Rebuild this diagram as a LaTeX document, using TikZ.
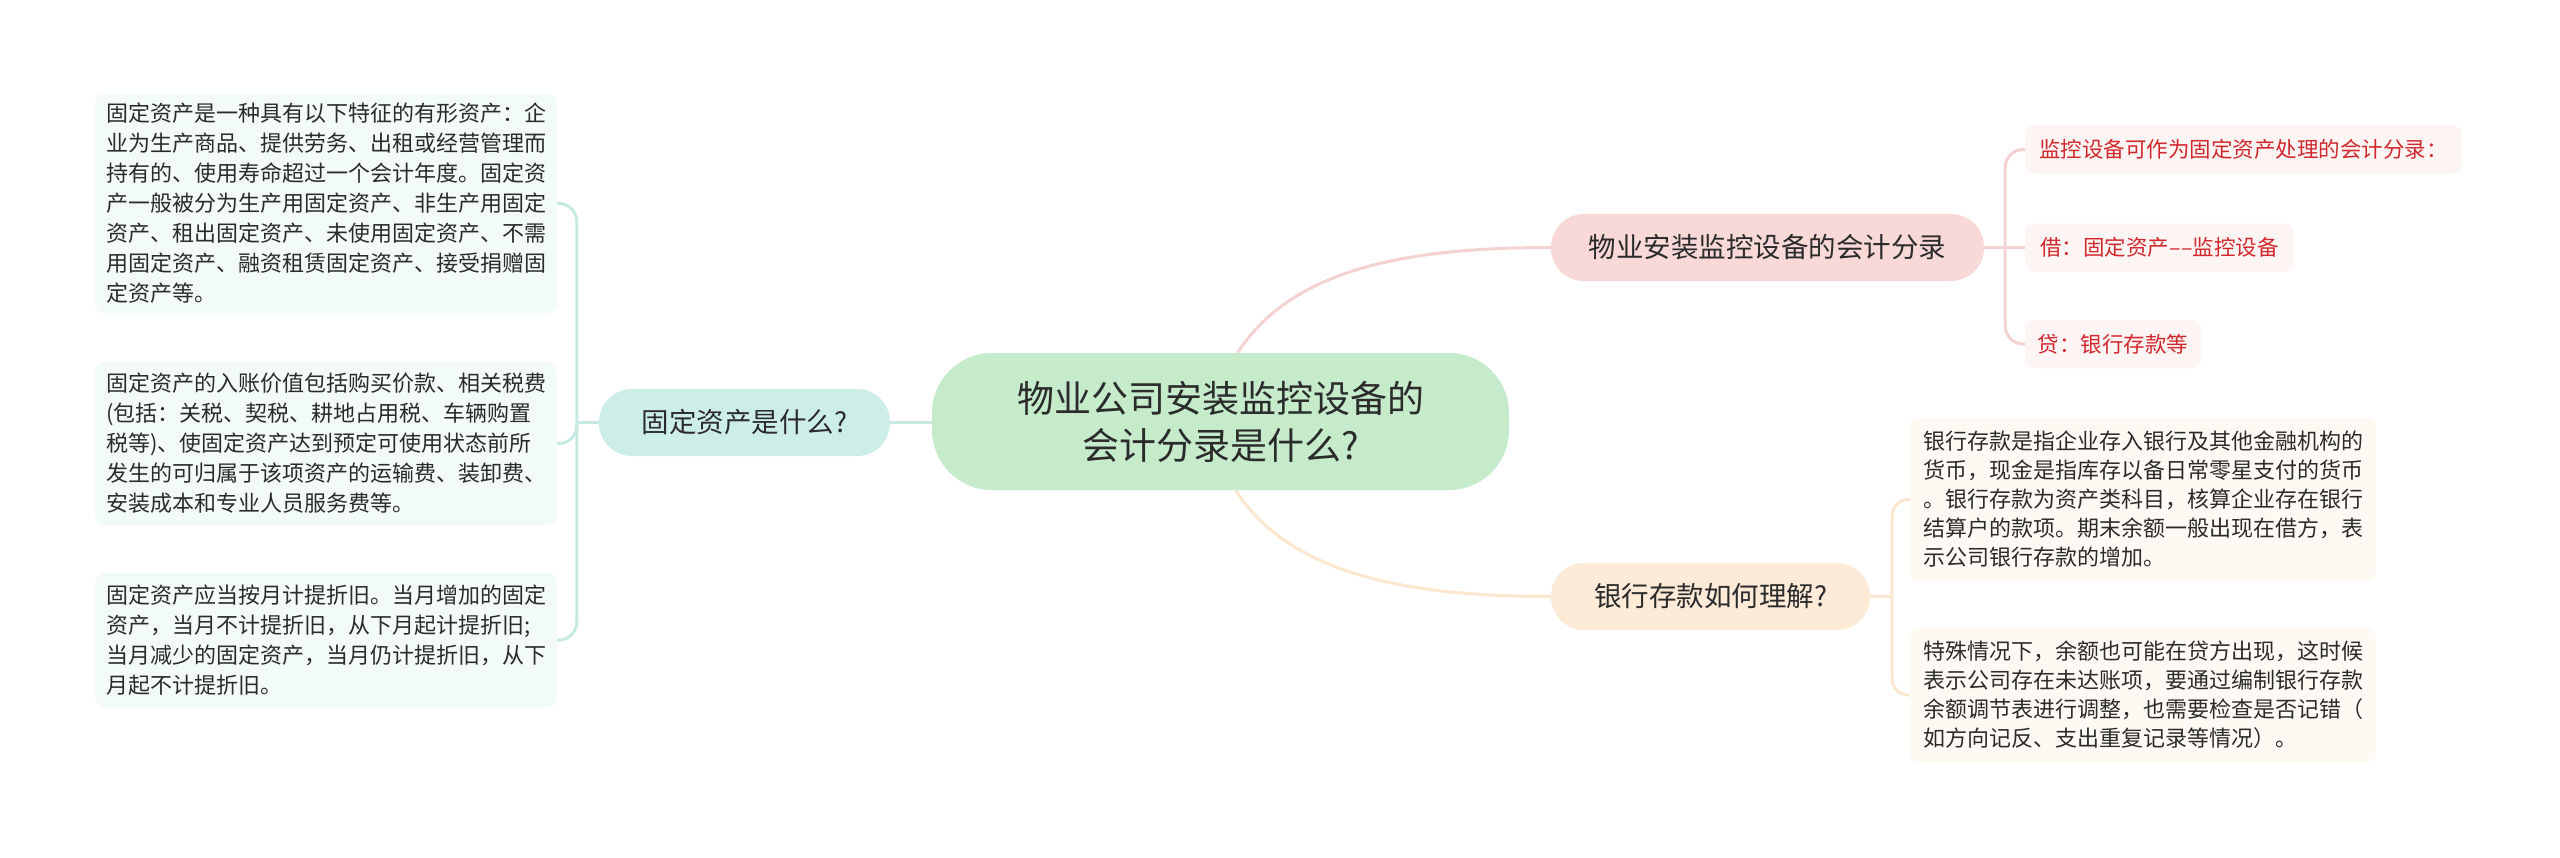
\documentclass[tikz,border=0pt]{standalone}
\usepackage{fontspec}
\setmainfont{Noto Sans CJK SC}
\usetikzlibrary{backgrounds}
\definecolor{txt}{HTML}{2B2B2B}
\definecolor{cgreen}{HTML}{C5EBCA}
\definecolor{lteal}{HTML}{CDEEE8}
\definecolor{llteal}{HTML}{C6EAE3}
\definecolor{leafteal}{HTML}{F3FAFA}
\definecolor{rpink}{HTML}{F9D8D8}
\definecolor{lpink}{HTML}{F5D2D2}
\definecolor{leafpink}{HTML}{FDF4F4}
\definecolor{redtxt}{HTML}{D0282C}
\definecolor{rpeach}{HTML}{FDEBD8}
\definecolor{lpeach}{HTML}{FBE6D0}
\definecolor{leafpeach}{HTML}{FEFAF3}
\tikzset{
  mainbox/.style={fill=cgreen, rounded corners=60pt, minimum width=577pt, minimum height=137pt,
    align=center, text=txt, inner sep=0pt, font=\fontsize{37}{47}\selectfont},
  subbox/.style={rounded corners=33pt, minimum height=67pt, inner sep=0pt, text=txt,
    font=\fontsize{27.5}{33}\selectfont},
  leafbox/.style={rounded corners=9pt, inner ysep=0pt, text=txt, align=left},
  lefttext/.style={leafbox, fill=leafteal, text width=440pt, inner xsep=11pt, font=\fontsize{22}{30}\selectfont},
  rbtext/.style={leafbox, fill=leafpeach, text width=440pt, inner xsep=13pt, font=\fontsize{22}{29}\selectfont},
  redleaf/.style={leafbox, fill=leafpink, text=redtxt, minimum height=48pt, font=\fontsize{21.5}{26}\selectfont},
  lline/.style={draw=llteal, line width=3pt},
  pline/.style={draw=lpink, line width=3pt},
  oline/.style={draw=lpeach, line width=3pt}
}
\begin{document}
\begin{tikzpicture}[x=1pt,y=-1pt]
\useasboundingbox (0,0) rectangle (2560,857);

% central
\node[mainbox] (c) at (1220.5,421.5) {物业公司安装监控设备的\\会计分录是什么?};

% left branch
\node[subbox, fill=lteal, minimum width=291pt] (L) at (744.5,422.5) {固定资产是什么?};
\node[lefttext, minimum height=219pt] (L1) at (326,203.5) {固定资产是一种具有以下特征的有形资产：企\\业为生产商品、提供劳务、出租或经营管理而\\持有的、使用寿命超过一个会计年度。固定资\\产一般被分为生产用固定资产、非生产用固定\\资产、租出固定资产、未使用固定资产、不需\\用固定资产、融资租赁固定资产、接受捐赠固\\定资产等。};
\node[lefttext, minimum height=163pt] (L2) at (326,443.5) {固定资产的入账价值包括购买价款、相关税费\\(包括：关税、契税、耕地占用税、车辆购置\\税等)、使固定资产达到预定可使用状态前所\\发生的可归属于该项资产的运输费、装卸费、\\安装成本和专业人员服务费等。};
\node[lefttext, minimum height=134pt] (L3) at (326,640) {固定资产应当按月计提折旧。当月增加的固定\\资产，当月不计提折旧，从下月起计提折旧;\\当月减少的固定资产，当月仍计提折旧，从下\\月起不计提折旧。};

% right top branch
\node[subbox, fill=rpink, minimum width=433pt] (RT) at (1767.5,247.5) {物业安装监控设备的会计分录};
\node[redleaf, minimum width=437pt] (R1) at (2243.5,149.5) {监控设备可作为固定资产处理的会计分录：};
\node[redleaf, minimum width=269pt] (R2) at (2159.5,247.5) {借：固定资产––监控设备};
\node[redleaf, minimum width=176pt] (R3) at (2113,344) {贷：银行存款等};

% right bottom branch
\node[subbox, fill=rpeach, minimum width=319pt] (RB) at (1710.5,596.5) {银行存款如何理解?};
\node[rbtext, minimum height=163pt] (RB1) at (2143,499.5) {银行存款是指企业存入银行及其他金融机构的\\货币，现金是指库存以备日常零星支付的货币\\。银行存款为资产类科目，核算企业存在银行\\结算户的款项。期末余额一般出现在借方，表\\示公司银行存款的增加。};
\node[rbtext, minimum height=134pt] (RB2) at (2143,695) {特殊情况下，余额也可能在贷方出现，这时候\\表示公司存在未达账项，要通过编制银行存款\\余额调节表进行调整，也需要检查是否记错（\\如方向记反、支出重复记录等情况）。};

\begin{pgfonlayer}{background}
  \fill[white] (0,0) rectangle (2560,857);
  % left connectors
  \draw[lline] (L.east) -- (L.east -| c.west);
  \path (L.west) ++(-22,0) coordinate (lb);
  \draw[lline] (L.west) -- (lb);
  \draw[lline, rounded corners=18pt] (lb) |- (L1.east);
  \draw[lline, rounded corners=18pt] (lb) |- (L2.east);
  \draw[lline, rounded corners=18pt] (lb) |- (L3.east);
  % right top connectors
  \draw[pline] ([xshift=17pt]c.north) .. controls +(53,-82) and +(-150,0) .. (RT.west);
  \path (RT.east) ++(21,0) coordinate (rtb);
  \draw[pline] (RT.east) -- (R2.west);
  \draw[pline, rounded corners=18pt] (rtb) |- (R1.west);
  \draw[pline, rounded corners=18pt] (rtb) |- (R3.west);
  % right bottom connectors
  \draw[oline] ([xshift=15pt]c.south) .. controls +(53,82) and +(-150,0) .. (RB.west);
  \path (RB.east) ++(22,0) coordinate (rbb);
  \draw[oline] (RB.east) -- (rbb);
  \draw[oline, rounded corners=16pt] (rbb) |- (RB1.west);
  \draw[oline, rounded corners=16pt] (rbb) |- (RB2.west);
\end{pgfonlayer}
\end{tikzpicture}
\end{document}
